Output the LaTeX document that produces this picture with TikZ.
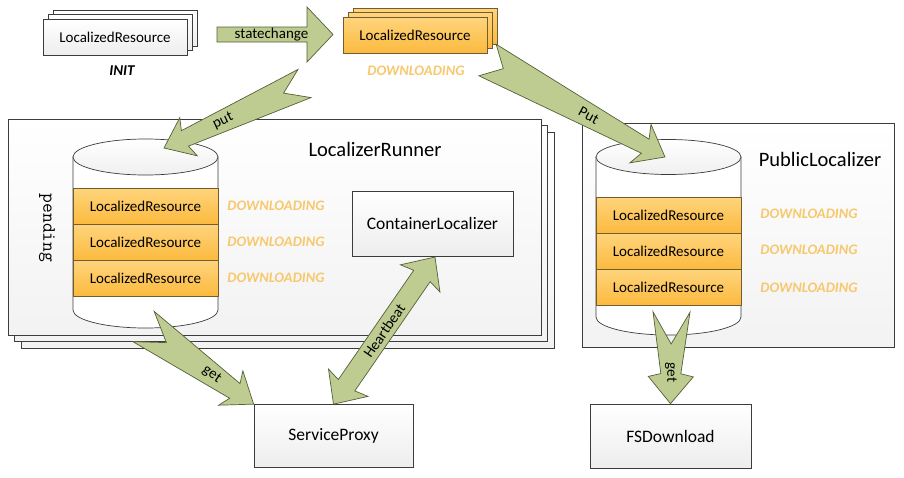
\documentclass[tikz,border=0pt]{standalone}
\usepackage{fontspec}
\setmainfont{Carlito}
\usetikzlibrary{calc}

\definecolor{arrfill}{RGB}{191,204,145}
\definecolor{arrdraw}{RGB}{85,95,55}
\definecolor{orfillA}{RGB}{255,212,125}
\definecolor{orfillB}{RGB}{251,186,62}
\definecolor{ordraw}{RGB}{115,92,45}
\definecolor{dltext}{RGB}{247,200,110}
\definecolor{boxdraw}{RGB}{60,60,60}

\newdimen\fadx \newdimen\fady
\pgfkeys{/fa/.cd, bt/.store in=\fabt, bh/.store in=\fabh, hw/.store in=\faH,
  hl/.store in=\fah, notch/.store in=\fan, two/.store in=\fatwo, labadd/.store in=\faladd,
  sweep/.store in=\fasw}
% #1 keys, #2 label name, #3 from, #4 to, #5 label text, #6 label position
\newcommand\fatarrow[6][]{%
 \begingroup
 \pgfkeys{/fa/.cd, bt=18, bh=10, hw=22, hl=27, notch=0, two=0, labadd=0, sweep=0, #1}%
 \pgfextractx{\fadx}{\pgfpointdiff{\pgfpointanchor{#3}{center}}{\pgfpointanchor{#4}{center}}}%
 \pgfextracty{\fady}{\pgfpointdiff{\pgfpointanchor{#3}{center}}{\pgfpointanchor{#4}{center}}}%
 \pgfmathsetmacro\faang{atan2(\fady,\fadx)}%
 \pgfmathsetmacro\falen{veclen(\fadx,\fady)}%
 \pgfmathsetmacro\falab{ifthenelse(abs(\faang)>90,\faang+180,\faang)+\faladd}%
 \pgfmathsetmacro\fajx{\falen-\fah}%
 \pgfmathsetmacro\fabx{\falen-\fah-\fasw}%
 \pgfmathsetmacro\fabxa{\fah+\fasw}%
 \begin{scope}[shift={(#3)}, rotate=\faang, x=1pt, y=1pt]
  \ifnum\fatwo=1
   \draw[fatarrowstyle] (0,0) -- (\fabxa,\faH) -- (\fah,\fabt) -- (\fajx,\fabh) -- (\fabx,\faH)
     -- (\falen,0) -- (\fabx,-\faH) -- (\fajx,-\fabh) -- (\fah,-\fabt) -- (\fabxa,-\faH) -- cycle;
  \else
   \draw[fatarrowstyle] (\fan,0) -- (0,\fabt) -- (\fajx,\fabh) -- (\fabx,\faH) -- (\falen,0)
     -- (\fabx,-\faH) -- (\fajx,-\fabh) -- (0,-\fabt) -- cycle;
  \fi
  \node[arrowlabel, rotate=\falab] (#2) at (#6*\falen,0) {#5};
 \end{scope}
 \endgroup}

\tikzset{
 fatarrowstyle/.style={draw=arrdraw, line width=0.7pt, fill=arrfill, line join=miter},
 arrowlabel/.style={font=\fontsize{15}{18}\selectfont, inner sep=0pt},
 lbl/.style={font=\fontsize{15}{18}\selectfont},
 big/.style={font=\fontsize{17.5}{21}\selectfont},
 ttl/.style={font=\fontsize{20.5}{24}\selectfont},
 dl/.style={font=\fontsize{14.5}{17}\selectfont\bfseries\itshape, text=dltext},
 wbox/.style={draw=boxdraw, line width=0.7pt, top color=white, bottom color=gray!14},
 obox/.style={draw=ordraw, line width=0.7pt, top color=orfillA, bottom color=orfillB},
 bigbox/.style={draw=boxdraw, line width=0.7pt, top color=white, bottom color=gray!10},
 cyl/.style={draw=boxdraw, line width=0.7pt, fill=white},
 cyltop/.style={draw=boxdraw, line width=0.7pt, top color=white, bottom color=gray!12},
}

\begin{document}
\begin{tikzpicture}[x=1pt, y=-1pt]
\useasboundingbox (0,0) rectangle (904,477);
\fill[white] (0,0) rectangle (904,477);

% INIT stack
\path[wbox] (53,10) rectangle (197,46);
\path[wbox] (48,14.5) rectangle (192,50.5);
\node[wbox, lbl, minimum width=144pt, minimum height=36pt, inner sep=0pt] (init) at (115,37) {LocalizedResource};
\node[lbl, font=\fontsize{15}{18}\selectfont\bfseries\itshape] (initlbl) at (122,71) {INIT};

% DOWNLOADING stack
\path[obox] (353,8) rectangle (497,44);
\path[obox] (348,12.5) rectangle (492,48.5);
\node[obox, lbl, minimum width=144pt, minimum height=36pt, inner sep=0pt] (dlres) at (415,35) {LocalizedResource};
\node[dl] (dllbl) at (416,71) {DOWNLOADING};

% LocalizerRunner stack
\path[bigbox] (21,132) rectangle (554,348);
\path[bigbox] (14.5,125.5) rectangle (547.5,341.5);
\node[bigbox, minimum width=533pt, minimum height=216pt, inner sep=0pt] (runner) at (274.5,227) {};
\node[ttl] (runnerlbl) at (375,149) {LocalizerRunner};
\node[rotate=-90, font=\ttfamily\fontsize{19}{22}\selectfont] (pend) at (47,228) {pending};

% left cylinder
\path[cyl] (73,157) -- (73,310) arc[start angle=180, end angle=360, x radius=72.5pt, y radius=18pt] -- (218,157) -- cycle;
\path[cyltop] (145.5,157) ellipse[x radius=72.5pt, y radius=18pt];
\node[obox, lbl, minimum width=145pt, minimum height=36pt, inner sep=0pt] (lr1) at (145.5,206) {LocalizedResource};
\node[obox, lbl, minimum width=145pt, minimum height=36pt, inner sep=0pt] (lr2) at (145.5,242) {LocalizedResource};
\node[obox, lbl, minimum width=145pt, minimum height=36pt, inner sep=0pt] (lr3) at (145.5,278) {LocalizedResource};
\node[dl] (ld1) at (276,206) {DOWNLOADING};
\node[dl] (ld2) at (276,242) {DOWNLOADING};
\node[dl] (ld3) at (276,278) {DOWNLOADING};

% ContainerLocalizer
\node[wbox, big, minimum width=161pt, minimum height=65pt, inner sep=0pt] (cl) at (432.5,223.5) {ContainerLocalizer};

% PublicLocalizer
\node[bigbox, minimum width=312pt, minimum height=224pt, inner sep=0pt] (pub) at (738,235) {};
\node[ttl] (publbl) at (820,159) {PublicLocalizer};
\path[cyl] (596,157) -- (596,317) arc[start angle=180, end angle=360, x radius=72.5pt, y radius=18pt] -- (741,157) -- cycle;
\path[cyltop] (668.5,157) ellipse[x radius=72.5pt, y radius=17.5pt];
\node[obox, lbl, minimum width=145pt, minimum height=36pt, inner sep=0pt] (pr1) at (668.5,215) {LocalizedResource};
\node[obox, lbl, minimum width=145pt, minimum height=36pt, inner sep=0pt] (pr2) at (668.5,251) {LocalizedResource};
\node[obox, lbl, minimum width=145pt, minimum height=36pt, inner sep=0pt] (pr3) at (668.5,287) {LocalizedResource};
\node[dl] (pd1) at (809,214) {DOWNLOADING};
\node[dl] (pd2) at (809,250) {DOWNLOADING};
\node[dl] (pd3) at (809,288) {DOWNLOADING};

% bottom boxes
\node[wbox, big, minimum width=159pt, minimum height=63pt, inner sep=0pt] (sp) at (333.5,436) {ServiceProxy};
\node[wbox, big, minimum width=161pt, minimum height=64pt, inner sep=0pt] (fs) at (670.5,436) {FSDownload};

% arrow end points
\coordinate (a1s) at (217,34.5);
\coordinate (a1e) at (333,34.5);
\coordinate (a2s) at (304.5,83.5);
\coordinate (a2e) at (164,148);
\coordinate (a3s) at (487.5,60);
\coordinate (a3e) at (665,157);
\coordinate (a4s) at (143.5,326.5);
\coordinate (a4e) at (sp.north west);
\coordinate (a5s) at (sp.north);
\coordinate (a5e) at (435,257);
\coordinate (a6s) at (671.5,312);
\coordinate (a6e) at (fs.north);

% arrows
\fatarrow[bt=7.5, bh=7.5, hw=27.5, hl=26]{l1}{a1s}{a1e}{statechange}{0.47}
\fatarrow[bt=15.5, bh=8.5, hw=21, hl=23, sweep=4, notch=23]{l2}{a2s}{a2e}{put}{0.58}
\fatarrow[bt=18, bh=8, hw=22, hl=22.5, sweep=5.5, notch=18]{l3}{a3s}{a3e}{Put}{0.57}
\fatarrow[bt=18.5, bh=9, hw=21, hl=23, sweep=5, notch=28]{l4}{a4s}{a4e}{get}{0.62}
\fatarrow[bt=10, bh=10, hw=24, hl=23, sweep=3, two=1]{l5}{a5s}{a5e}{Heartbeat}{0.5}
\fatarrow[bt=18.5, bh=10, hw=22.5, hl=30, sweep=-3, notch=32, labadd=180]{l6}{a6s}{a6e}{get}{0.66}
\end{tikzpicture}
\end{document}
